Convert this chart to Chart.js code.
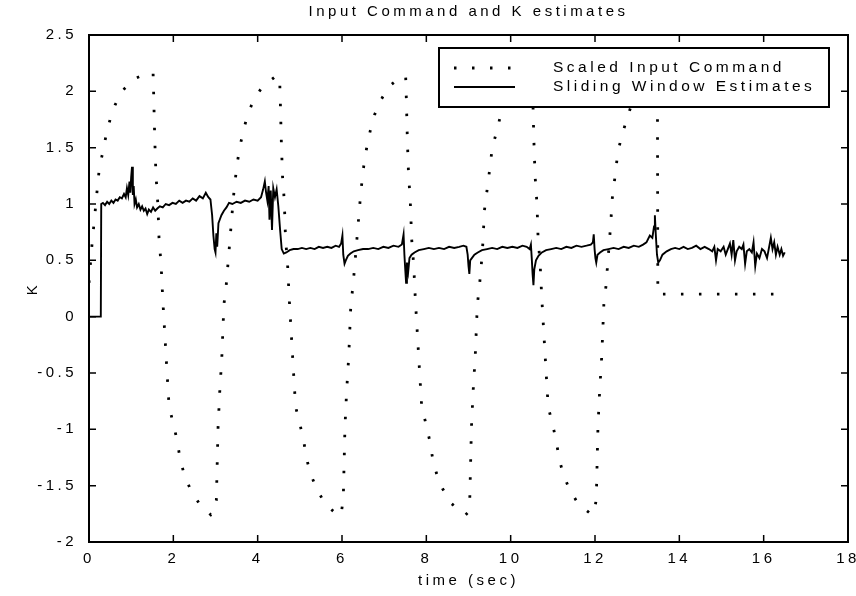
<!DOCTYPE html>
<html>
<head>
<meta charset="utf-8">
<script src="https://cdn.jsdelivr.net/npm/chart.js@4.4.0/dist/chart.umd.min.js"></script>
<style>
  html, body { margin: 0; padding: 0; background: #fff; }
</style>
</head>
<body>
<canvas id="stage" width="856" height="596"></canvas>
<script>
const chartTitle = 'Input Command and K estimates';
const xTitle = 'time (sec)';
const yTitle = 'K';
const xTicks = [0, 2, 4, 6, 8, 10, 12, 14, 16, 18];
const yTicks = [-2, -1.5, -1, -0.5, 0, 0.5, 1, 1.5, 2, 2.5];

const cmdLabel = 'Scaled Input Command';
const estLabel = 'Sliding Window Estimates';

// scaled input command (dotted)
const cmdTime = [
  0, 0.04, 0.08, 0.12, 0.2, 0.24, 0.32, 0.4, 0.5, 0.62, 0.78, 1.07, 1.45, 1.52,
  1.53, 1.54, 1.56, 1.59, 1.62, 1.64, 1.66, 1.71, 1.75, 1.8, 1.85, 1.9, 2.0, 2.09, 2.16, 2.25, 2.4, 2.6, 2.89,
  2.96, 3.02, 3.04, 3.06, 3.08, 3.1, 3.15, 3.2, 3.25, 3.32, 3.39, 3.44, 3.51, 3.58, 3.66, 3.76, 3.9, 4.11, 4.45, 4.52,
  4.53, 4.54, 4.56, 4.59, 4.62, 4.64, 4.66, 4.71, 4.75, 4.8, 4.85, 4.9, 5.0, 5.09, 5.16, 5.25, 5.4, 5.6, 5.92,
  5.98, 6.03, 6.05, 6.07, 6.09, 6.11, 6.16, 6.21, 6.26, 6.33, 6.4, 6.45, 6.52, 6.59, 6.67, 6.77, 6.92, 7.1, 7.44, 7.51,
  7.52, 7.53, 7.55, 7.58, 7.61, 7.63, 7.65, 7.7, 7.74, 7.79, 7.84, 7.89, 7.99, 8.08, 8.15, 8.24, 8.39, 8.6, 8.93,
  8.98, 9.03, 9.05, 9.07, 9.09, 9.11, 9.16, 9.21, 9.26, 9.33, 9.38, 9.46, 9.51, 9.56, 9.65, 9.75, 9.9, 10.1, 10.44, 10.51,
  10.52, 10.53, 10.55, 10.58, 10.61, 10.63, 10.65, 10.7, 10.74, 10.79, 10.84, 10.89, 10.99, 11.08, 11.15, 11.24, 11.39, 11.6, 11.93,
  11.98, 12.03, 12.05, 12.07, 12.09, 12.11, 12.16, 12.21, 12.26, 12.35, 12.38, 12.4, 12.45, 12.5, 12.54, 12.64, 12.76, 12.9, 13.1, 13.47,
  13.48, 13.49, 16.5
];
const cmdValue = [
  0.3, 0.5, 0.68, 0.83, 1.15, 1.3, 1.45, 1.6, 1.75, 1.88, 2.0, 2.11, 2.17, 2.16,
  2.04, 1.87, 1.57, 1.24, 1.09, 0.93, 0.7, 0.46, 0.15, -0.17, -0.49, -0.8, -0.95, -1.1, -1.26, -1.39, -1.53, -1.65, -1.76,
  -1.74, -1.63, -1.31, -0.99, -0.83, -0.67, -0.36, 0.11, 0.26, 0.58, 0.9, 1.12, 1.35, 1.51, 1.65, 1.79, 1.92, 2.04, 2.14, 2.13,
  2.0, 1.87, 1.57, 1.24, 1.09, 0.93, 0.7, 0.46, 0.15, -0.17, -0.49, -0.8, -0.95, -1.1, -1.26, -1.39, -1.53, -1.66, -1.77,
  -1.75, -1.62, -1.3, -0.98, -0.82, -0.66, -0.35, 0.11, 0.27, 0.58, 0.9, 1.12, 1.35, 1.51, 1.65, 1.79, 1.92, 2.04, 2.14, 2.13,
  2.01, 1.87, 1.57, 1.24, 1.09, 0.93, 0.7, 0.46, 0.15, -0.17, -0.49, -0.8, -0.95, -1.1, -1.26, -1.39, -1.53, -1.66, -1.76,
  -1.74, -1.62, -1.3, -0.98, -0.82, -0.66, -0.35, 0.11, 0.27, 0.58, 0.95, 1.18, 1.33, 1.49, 1.62, 1.77, 1.92, 2.04, 2.14, 2.13,
  2.01, 1.87, 1.57, 1.24, 1.09, 0.93, 0.7, 0.46, 0.15, -0.17, -0.49, -0.8, -0.95, -1.1, -1.26, -1.39, -1.53, -1.66, -1.76,
  -1.74, -1.62, -1.3, -0.98, -0.82, -0.66, -0.35, 0.11, 0.27, 0.71, 0.86, 1.02, 1.17, 1.32, 1.46, 1.61, 1.76, 1.92, 2.04, 2.14,
  2.1, 0.2, 0.2
];

// sliding window K estimates (solid)
const estTime = [
  0, 0.28, 0.29, 0.33, 0.38, 0.43, 0.48, 0.53, 0.58, 0.63, 0.68, 0.73, 0.78, 0.83, 0.87, 0.9, 0.93, 0.96, 0.98, 1.0,
  1.02, 1.04, 1.06, 1.08, 1.11, 1.14, 1.18, 1.22, 1.26, 1.3, 1.34, 1.38, 1.42, 1.47, 1.52, 1.57, 1.62, 1.68, 1.75, 1.82,
  1.9, 1.98, 2.06, 2.14, 2.22, 2.3, 2.38, 2.46, 2.54, 2.62, 2.7, 2.77, 2.83, 2.88, 2.92, 2.95, 2.98, 3.0, 3.02, 3.04,
  3.07, 3.1, 3.14, 3.2, 3.26, 3.32, 3.4, 3.5, 3.6, 3.7, 3.8, 3.9, 4.0, 4.08, 4.13, 4.17, 4.2, 4.23, 4.26, 4.28,
  4.31, 4.34, 4.37, 4.41, 4.45, 4.49, 4.53, 4.57, 4.62, 4.68, 4.76, 4.85, 4.95, 5.05, 5.15, 5.25, 5.35, 5.45, 5.55, 5.65,
  5.75, 5.85, 5.93, 5.98, 6.01, 6.03, 6.06, 6.09, 6.14, 6.2, 6.28, 6.38, 6.5, 6.62, 6.74, 6.86, 6.98, 7.1, 7.22, 7.34,
  7.42, 7.46, 7.48, 7.5, 7.52, 7.54, 7.57, 7.6, 7.65, 7.72, 7.82, 7.94, 8.06, 8.18, 8.3, 8.42, 8.54, 8.66, 8.78, 8.88,
  8.95, 8.98, 9.0, 9.02, 9.04, 9.08, 9.14, 9.22, 9.32, 9.44, 9.56, 9.68, 9.8, 9.92, 10.04, 10.16, 10.28, 10.38, 10.45, 10.48,
  10.5, 10.52, 10.54, 10.56, 10.6, 10.66, 10.74, 10.84, 10.96, 11.08, 11.2, 11.32, 11.44, 11.56, 11.68, 11.8, 11.9, 11.95, 11.97, 11.99,
  12.01, 12.03, 12.06, 12.12, 12.2, 12.32, 12.44, 12.56, 12.68, 12.8, 12.92, 13.04, 13.14, 13.22, 13.3, 13.36, 13.4, 13.42, 13.44, 13.47,
  13.5, 13.54, 13.6, 13.7, 13.8, 13.9, 14.0, 14.1, 14.2, 14.3, 14.4, 14.5, 14.6, 14.7, 14.78, 14.83, 14.87, 14.91, 14.98, 15.05,
  15.1, 15.15, 15.2, 15.24, 15.28, 15.32, 15.36, 15.42, 15.48, 15.52, 15.56, 15.6, 15.66, 15.72, 15.76, 15.8, 15.84, 15.9, 15.96, 16.02,
  16.08, 16.13, 16.17, 16.21, 16.25, 16.29, 16.33, 16.38, 16.42, 16.46, 16.5
];
const estValue = [
  0, 0, 1.0, 1.01, 0.99, 1.02, 1.0, 1.03, 1.01, 1.04, 1.03, 1.06, 1.05, 1.09, 1.06, 1.14, 1.08, 1.2, 1.1, 1.24,
  1.33, 1.08, 1.16, 1.0, 1.04, 0.97, 1.0, 0.95, 0.98, 0.94, 0.96, 0.91, 0.95, 0.93, 0.97, 0.94, 0.96, 0.98, 0.97, 1.0,
  0.99, 1.01, 1.0, 1.03, 1.01, 1.03, 1.02, 1.05, 1.03, 1.07, 1.05, 1.1, 1.06, 1.04, 0.9, 0.72, 0.6, 0.57, 0.74, 0.62,
  0.83, 0.86, 0.9, 0.94, 0.97, 1.01, 1.0, 1.02, 1.01, 1.03, 1.02, 1.04, 1.03, 1.06, 1.13, 1.2, 1.1, 1.03, 1.16, 0.86,
  1.12, 0.77, 1.14, 1.06, 1.13, 0.98, 0.78, 0.6, 0.56, 0.57, 0.59, 0.6, 0.6, 0.61, 0.6, 0.61, 0.6, 0.62, 0.61, 0.62,
  0.61, 0.63, 0.62, 0.65, 0.72, 0.55, 0.47, 0.5, 0.54, 0.56, 0.58, 0.59, 0.6, 0.6, 0.61, 0.6, 0.62, 0.61, 0.63, 0.62,
  0.64, 0.73, 0.55, 0.42, 0.3, 0.48, 0.4, 0.52, 0.55, 0.57, 0.59, 0.6, 0.61, 0.6, 0.61, 0.6, 0.62, 0.61, 0.62, 0.63,
  0.62, 0.55, 0.45, 0.38, 0.5, 0.52, 0.55, 0.57, 0.59, 0.6, 0.61, 0.6, 0.62, 0.61, 0.62, 0.61, 0.63, 0.62, 0.6, 0.64,
  0.52, 0.38, 0.28, 0.42, 0.5, 0.54, 0.57, 0.59, 0.6, 0.61, 0.6, 0.62, 0.61, 0.63, 0.62, 0.63, 0.64, 0.66, 0.73, 0.6,
  0.52, 0.48, 0.55, 0.57, 0.59, 0.6, 0.61, 0.6, 0.62, 0.61, 0.63, 0.62, 0.64, 0.66, 0.72, 0.7, 0.8, 0.9, 0.74, 0.55,
  0.48, 0.5, 0.55, 0.58, 0.6, 0.61, 0.6, 0.62, 0.6, 0.61, 0.63, 0.6, 0.62, 0.6, 0.58, 0.62, 0.5, 0.6, 0.58, 0.62,
  0.55, 0.6, 0.65, 0.55, 0.68, 0.5, 0.58, 0.62, 0.6, 0.64, 0.47, 0.58, 0.6, 0.57, 0.66, 0.45, 0.56, 0.52, 0.6, 0.58,
  0.52, 0.62, 0.7, 0.6, 0.66, 0.55, 0.62, 0.55, 0.6, 0.54, 0.57
];

const FONT = '"Liberation Sans", Arial, sans-serif';

function pairs(ts, vs) {
  return ts.map((t, i) => ({ x: t, y: vs[i] }));
}

// box, inward ticks, title and legend drawn like the matlab figure
const framePlugin = {
  id: 'frame',
  beforeDraw(chart) {
    chart.ctx.letterSpacing = '3.5px';
  },
  afterDatasetsDraw(chart) {
    const { ctx, chartArea: a, scales } = chart;
    ctx.save();
    ctx.strokeStyle = '#000';
    ctx.lineWidth = 2;
    ctx.strokeRect(a.left, a.top, a.right - a.left, a.bottom - a.top);

    ctx.lineWidth = 1.5;
    ctx.beginPath();
    xTicks.forEach(v => {
      const px = scales.x.getPixelForValue(v);
      ctx.moveTo(px, a.bottom); ctx.lineTo(px, a.bottom - 7);
      ctx.moveTo(px, a.top); ctx.lineTo(px, a.top + 7);
    });
    yTicks.forEach(v => {
      const py = scales.y.getPixelForValue(v);
      ctx.moveTo(a.left, py); ctx.lineTo(a.left + 7, py);
      ctx.moveTo(a.right, py); ctx.lineTo(a.right - 7, py);
    });
    ctx.stroke();

    // title
    ctx.fillStyle = '#000';
    ctx.font = '15px ' + FONT;
    ctx.textAlign = 'center';
    ctx.textBaseline = 'middle';
    ctx.fillText(chartTitle, (a.left + a.right) / 2, 12);

    // legend box
    const lw = 390, lh = 59;
    const lx = a.right - 19 - lw, ly = a.top + 13;
    ctx.fillStyle = '#fff';
    ctx.fillRect(lx, ly, lw, lh);
    ctx.lineWidth = 2;
    ctx.strokeRect(lx, ly, lw, lh);
    ctx.font = '15.5px ' + FONT;
    ctx.textAlign = 'left';
    chart.data.datasets.forEach((ds, i) => {
      const yy = ly + 20 + i * 19;
      ctx.save();
      ctx.strokeStyle = ds.borderColor;
      ctx.lineWidth = ds.borderWidth;
      ctx.setLineDash(ds.borderDash || []);
      ctx.beginPath();
      ctx.moveTo(lx + 15, yy);
      ctx.lineTo(lx + 76, yy);
      ctx.stroke();
      ctx.restore();
      ctx.fillStyle = '#000';
      ctx.fillText(ds.label, lx + 114, yy);
    });
    ctx.restore();
  }
};

new Chart(document.getElementById('stage'), {
  type: 'scatter',
  data: {
    datasets: [{
      label: cmdLabel,
      data: pairs(cmdTime, cmdValue),
      showLine: true,
      borderColor: '#000',
      borderWidth: 2.8,
      borderDash: [2.5, 15.5],
      pointRadius: 0,
      tension: 0
    }, {
      label: estLabel,
      data: pairs(estTime, estValue),
      showLine: true,
      borderColor: '#000',
      borderWidth: 1.9,
      pointRadius: 0,
      tension: 0
    }]
  },
  options: {
    responsive: false,
    animation: false,
    devicePixelRatio: 1,
    layout: { padding: { left: 0, right: 8, top: 35, bottom: 0 } },
    plugins: {
      legend: { display: false },
      tooltip: { enabled: false }
    },
    scales: {
      x: {
        type: 'linear',
        min: 0,
        max: 18,
        grid: { display: false },
        border: { display: false },
        ticks: {
          stepSize: 2,
          autoSkip: false,
          maxRotation: 0,
          padding: 0,
          color: '#000',
          font: { family: FONT, size: 15 },
          callback: v => String(v)
        },
        title: {
          display: true,
          text: xTitle,
          color: '#000',
          font: { family: FONT, size: 15 },
          padding: { top: 0, bottom: 6 }
        },
        afterFit(scale) {
          scale.height = 54;
          scale.paddingLeft = 0;
          scale.paddingRight = 0;
        }
      },
      y: {
        type: 'linear',
        min: -2,
        max: 2.5,
        grid: { display: false },
        border: { display: false },
        ticks: {
          stepSize: 0.5,
          padding: 4,
          color: '#000',
          font: { family: FONT, size: 15 },
          callback: v => String(v)
        },
        title: {
          display: true,
          text: yTitle,
          color: '#000',
          font: { family: FONT, size: 15 },
          padding: { top: 24, bottom: 0 }
        },
        afterFit(scale) {
          scale.width = 89;
          scale.paddingTop = 0;
          scale.paddingBottom = 0;
        }
      }
    }
  },
  plugins: [framePlugin]
});
</script>
</body>
</html>
